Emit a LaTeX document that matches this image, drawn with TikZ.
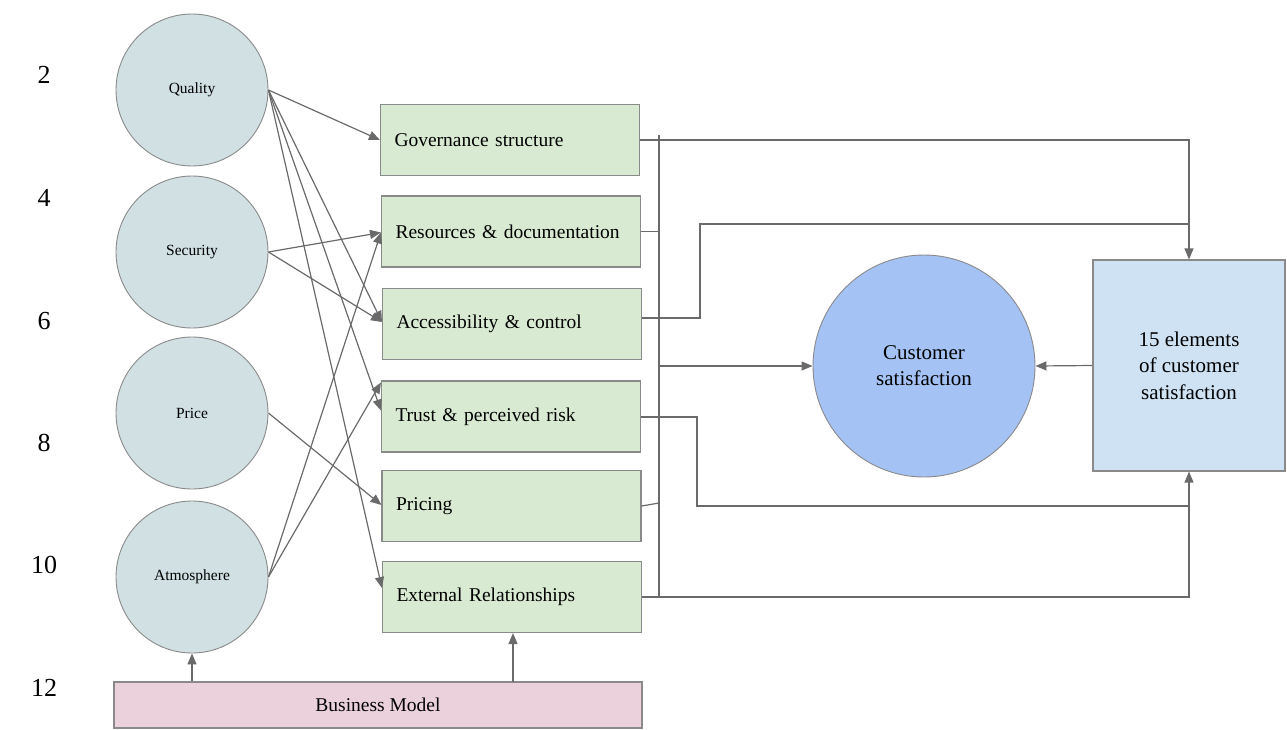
\documentclass[tikz,border=0pt]{standalone}
\usepackage{fontspec}
\setmainfont{Liberation Serif}
\usetikzlibrary{arrows.meta,calc}
\definecolor{linegray}{HTML}{6A6A6A}
\definecolor{edgegray}{HTML}{8A8A8A}
\definecolor{factorfill}{HTML}{D0E0E3}
\definecolor{areafill}{HTML}{D9EAD3}
\definecolor{modelfill}{HTML}{EAD1DC}
\definecolor{elemfill}{HTML}{CFE2F3}
\definecolor{satfill}{HTML}{A4C2F4}
\tikzset{
  factor/.style={circle,draw=edgegray,fill=factorfill,line width=0.9pt,minimum size=152pt,inner sep=0pt,font=\fontsize{15.5}{18}\selectfont},
  area/.style={rectangle,draw=edgegray,fill=areafill,line width=1.1pt,minimum height=71pt,text width=231pt,inner xsep=14pt,align=left,font=\fontsize{19.5}{22}\selectfont},
  conn/.style={draw=linegray,line width=1.2pt},
  arr/.style={conn,-{Triangle[length=11pt,width=9pt]}},
  rownum/.style={font=\fontsize{26}{28}\selectfont,inner sep=0pt}
}
\begin{document}
\begin{tikzpicture}[x=1pt,y=-1pt]
\useasboundingbox (0,0) rectangle (1287,729);

% row numbers at the left margin
\foreach \n/\yy in {2/75,4/198,6/321,8/443,10/565,12/688}
  \node[rownum] (row\n) at (44,\yy) {\n};

% service factors
\node[factor] (q)   at (192,90)  {Quality};
\node[factor] (sec) at (192,252) {Security};
\node[factor] (pr)  at (192,413) {Price};
\node[factor] (atm) at (192,577) {Atmosphere};

% governance areas
\node[area] (gov)   at (510,140)   {Governance structure};
\node[area] (res)   at (511,231.5) {Resources \& documentation};
\node[area] (acc)   at (512,324)   {Accessibility \& control};
\node[area] (trust) at (511,416.5) {Trust \& perceived risk};
\node[area] (pri)   at (511.5,506) {Pricing};
\node[area] (ext)   at (512,597)   {External Relationships};

% business model foundation
\node[rectangle,draw=edgegray,fill=modelfill,line width=1.1pt,minimum width=528pt,minimum height=46pt,
      font=\fontsize{19.5}{22}\selectfont] (bm) at (378,705) {Business Model};

% satisfaction
\node[circle,draw=edgegray,fill=satfill,line width=0.9pt,minimum size=222pt,inner sep=0pt,align=center,
      font=\fontsize{21}{26}\selectfont] (cs) at (924,366) {Customer\\satisfaction};
\node[rectangle,draw=edgegray,fill=elemfill,line width=1.1pt,minimum width=192pt,minimum height=211pt,align=center,
      font=\fontsize{21}{26.5}\selectfont] (el) at (1189,365.5) {15 elements\\of customer\\satisfaction};

% factor -> area links
\draw[arr] (q.east) -- (gov.west);
\draw[arr] (q.east) -- ([yshift=2pt]acc.west);
\draw[arr] (q.east) -- ([yshift=6pt]trust.west);
\draw[arr] (q.east) -- ([yshift=9pt]ext.west);
\draw[arr] (sec.east) -- ([yshift=-1pt]res.west);
\draw[arr] (sec.east) -- ([yshift=2pt]acc.west);
\draw[arr] (pr.east) -- ([yshift=1pt]pri.west);
\draw[arr] (atm.east) -- ([yshift=-1pt]res.west);
\draw[arr] (atm.east) -- ([yshift=-2pt]trust.north west);

% business model feeds
\draw[arr] (bm.north -| atm) -- (atm.south);
\draw[arr] (513,682) coordinate (bmx) -- (bmx |- ext.south);

% collecting bus
\coordinate (bustop) at (659,135);
\coordinate (busbot) at (659,597);
\draw[conn] (bustop) -- (busbot);
\draw[conn] (res.east) -- (res.east -| bustop);
\draw[conn] (pri.east) -- (659,503);
\draw[arr] (659,366) -- (cs.west);

% routes to the 15 elements
\draw[arr] (gov.east) -- (gov.east -| el.north) -- (el.north);
\draw[conn] ([yshift=6pt]acc.east) -- (700,318) -- (700,224) -- (1188,224);
\draw[conn,line width=1.8pt] (767,224) -- (1065,224);
\draw[conn] ([yshift=-0.5pt]trust.east) -- (697,417) -- (697,506) -- (1188,506);
\draw[conn,line width=1.8pt] (767,506) -- (1060,506);
\draw[arr] (ext.east) -- (ext.east -| el.south) -- (el.south);
\draw[arr] (el.west) -- (cs.east);
\end{tikzpicture}
\end{document}
